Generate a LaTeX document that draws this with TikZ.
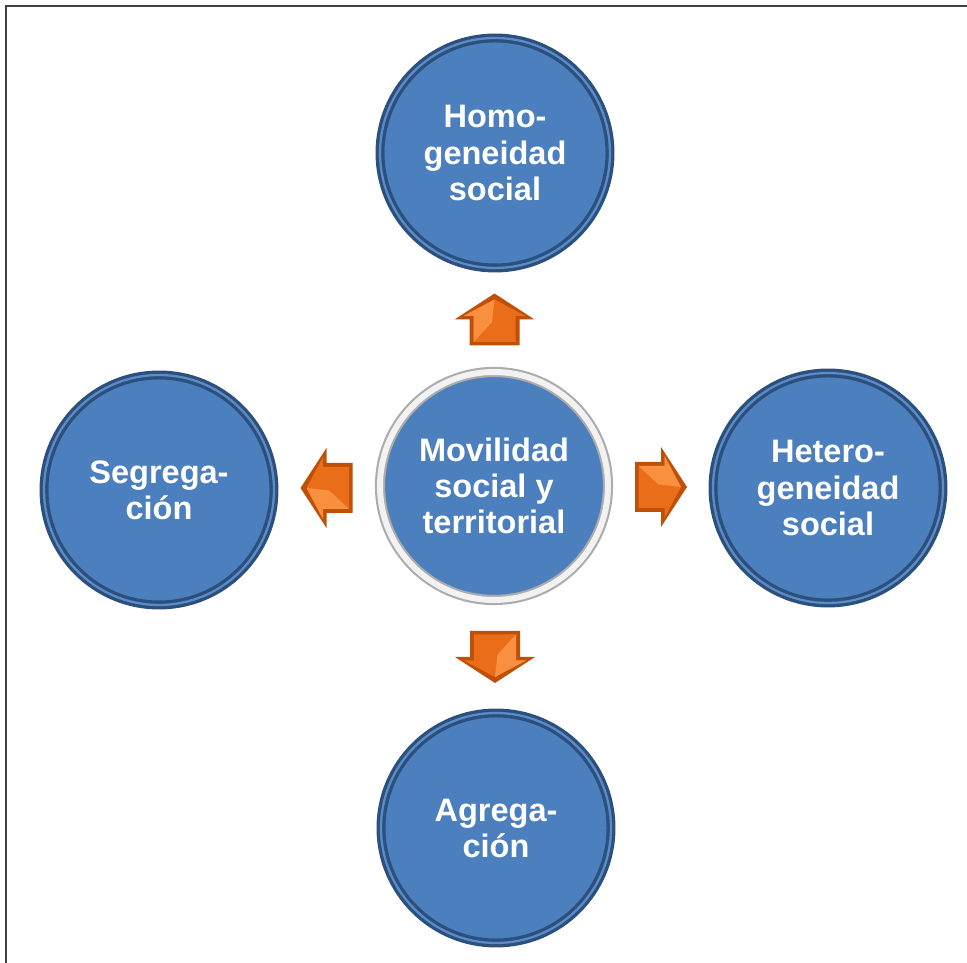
\documentclass[tikz,border=0pt]{standalone}
\usepackage{fontspec}
\setmainfont{Liberation Sans}
\usetikzlibrary{calc}

\definecolor{bodyBlue}{RGB}{76,127,189}
\definecolor{rimDark}{RGB}{44,80,126}
\definecolor{rimLight}{RGB}{92,140,198}
\definecolor{arrEdge}{RGB}{190,80,8}
\definecolor{arrFace}{RGB}{234,110,26}
\definecolor{arrLight}{RGB}{248,144,64}
\definecolor{frameGray}{RGB}{64,64,64}

\begin{document}
\begin{tikzpicture}[
  bubble/.style={circle, fill=bodyBlue, draw=rimDark, double=rimLight,
    double distance=1.3pt, line width=1.9pt, minimum size=4.6cm, inner sep=0pt,
    text=white, align=center, font=\bfseries\fontsize{18.5}{20.5}\selectfont},
  hub/.style={bubble, draw=gray!65, double=gray!10, double distance=3.4pt,
    line width=1.2pt, minimum size=4.56cm},
  orangeArrow/.pic={
    \fill[arrEdge] (-0.52,-0.5) -- (0,-0.5) -- (0,-0.8) -- (0.52,0) -- (0,0.8)
      -- (0,0.5) -- (-0.52,0.5) -- cycle;
    \fill[arrFace] (-0.45,-0.42) -- (0.07,-0.42) -- (0.07,-0.62) -- (0.4,0)
      -- (0.07,0.62) -- (0.07,0.42) -- (-0.45,0.42) -- cycle;
    \fill[arrLight] (-0.45,0.42) -- (0.07,0.42) -- (0.07,0.62) -- (0.4,0)
      -- (-0.05,0.05) -- cycle;
  }
]
\useasboundingbox (0,0) rectangle (19.34,19.26);

% frame (only top and left are visible)
\draw[frameGray, line width=1.1pt] (0.12,0) -- (0.12,19.14) -- (19.34,19.14);

\node[hub] (mov) at (9.88,9.54) {Movilidad\\social y\\territorial};

\node[bubble] (homo) at (9.90,16.20) {Homo-\\geneidad\\social};
\node[bubble] (seg) at (3.18,9.46) {Segrega-\\ción};
\node[bubble] (het) at (16.56,9.50) {Hetero-\\geneidad\\social};
\node[bubble] (agr) at (9.92,2.70) {Agrega-\\ción};

\pic[rotate=90] at ($(mov)!0.5!(homo)$) {orangeArrow};
\pic[rotate=180] at ($(mov)!0.5!(seg)$) {orangeArrow};
\pic at ($(mov)!0.5!(het)$) {orangeArrow};
\pic[rotate=-90] at ($(mov)!0.5!(agr)$) {orangeArrow};

\end{tikzpicture}
\end{document}
